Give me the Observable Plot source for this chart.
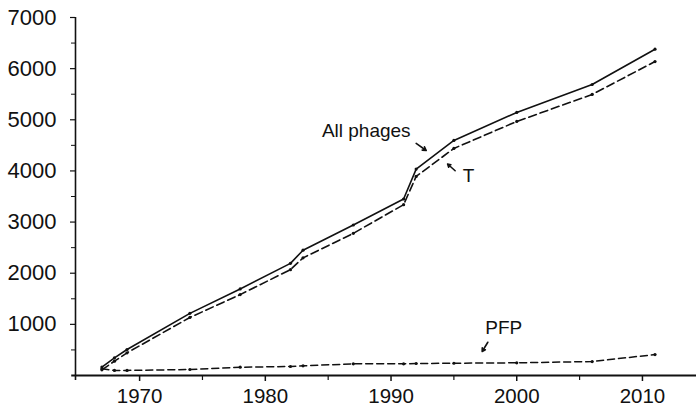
<!DOCTYPE html>
<html><head><meta charset="utf-8">
<script src="https://cdn.jsdelivr.net/npm/d3@7"></script>
<script src="https://cdn.jsdelivr.net/npm/@observablehq/plot@0.6"></script>
<style>body{margin:0;background:#fff} svg{font-family:"Liberation Sans",Arial,sans-serif}</style>
</head><body><div id="chart"></div>
<script>
const years = [1967, 1968, 1969, 1974, 1978, 1982, 1983, 1987, 1991, 1992, 1995, 2000, 2006, 2011];
const allPhages = [165, 345, 508, 1215, 1693, 2193, 2450, 2943, 3451, 4036, 4597, 5143, 5690, 6380];
const tailed = [111, 280, 443, 1135, 1582, 2070, 2300, 2779, 3340, 3893, 4440, 4967, 5495, 6139];
const pfp = [130, 100, 100, 117, 162, 176, 189, 228, 228, 235, 240, 248, 273, 410];
const seriesNames = ["All phages", "T", "PFP"];
const xTicks = [1970, 1980, 1990, 2000, 2010];
const xMinor = [1975, 1985, 1995, 2005];
const yTicks = [1000, 2000, 3000, 4000, 5000, 6000, 7000];
const yMinor = [500, 1500, 2500, 3500, 4500, 5500, 6500];
// annotation labels (data space) and their pointer arrows
const labelText = ["All phages", "T", "PFP"];
const labelYear = [1984.5, 1995.7, 1997.5];
const labelValue = [4775, 3906, 928];
const arrowFromYear = [1992.0, 1995.1, 1997.7];
const arrowFromValue = [4537, 4004, 650];
const arrowToYear = [1992.8, 1994.5, 1997.25];
const arrowToValue = [4400, 4135, 470];

const rows = [];
[allPhages, tailed, pfp].forEach((vals, s) => years.forEach((yr, i) => rows.push({series: seriesNames[s], year: yr, value: vals[i]})));
const labels = labelText.map((t, i) => ({text: t, x: labelYear[i], y: labelValue[i]}));
const arrows = labelText.map((t, i) => ({x1: arrowFromYear[i], y1: arrowFromValue[i], x2: arrowToYear[i], y2: arrowToValue[i]}));
const xMin = 1964.9;

const chart = Plot.plot({
  width: 696, height: 407,
  marginLeft: 75, marginRight: 0, marginTop: 17, marginBottom: 32,
  style: {fontFamily: "Liberation Sans, Arial, sans-serif", background: "white", color: "#111", overflow: "visible"},
  x: {domain: [xMin, 2014.3]},
  y: {domain: [0, 7000]},
  marks: [
    Plot.axisX({ticks: xTicks, tickFormat: d => String(d), tickSize: 6, tickPadding: 7, fontSize: 20.5, label: null, strokeWidth: 1.5}),
    Plot.axisX({ticks: xMinor, tickFormat: () => "", tickSize: 5, label: null, strokeWidth: 1.2}),
    Plot.axisY({ticks: yTicks, tickFormat: d => String(d), tickSize: 5, tickPadding: 14, fontSize: 22, label: null, strokeWidth: 1.2}),
    Plot.axisY({ticks: yMinor, tickFormat: () => "", tickSize: 4, label: null, strokeWidth: 1}),
    Plot.ruleY([0], {x1: xMin - 0.3, x2: 2014.3, stroke: "#111", strokeWidth: 2}),
    Plot.ruleX([xMin], {y1: -100, y2: 7000, stroke: "#111", strokeWidth: 1.6}),
    Plot.line(rows, {filter: d => d.series === "All phages", x: "year", y: "value", stroke: "#111", strokeWidth: 1.6}),
    Plot.line(rows, {filter: d => d.series === "T", x: "year", y: "value", stroke: "#111", strokeWidth: 1.6, strokeDasharray: "8,4"}),
    Plot.line(rows, {filter: d => d.series === "PFP", x: "year", y: "value", stroke: "#111", strokeWidth: 1.5, strokeDasharray: "7,4"}),
    Plot.dot(rows, {x: "year", y: "value", r: 1.6, fill: "#111"}),
    Plot.text(labels, {x: "x", y: "y", text: "text", textAnchor: "start", fontSize: 19, fill: "#111"}),
    Plot.arrow(arrows, {x1: "x1", y1: "y1", x2: "x2", y2: "y2", stroke: "#111", strokeWidth: 1.6, headLength: 7})
  ]
});
document.getElementById("chart").append(chart);
</script>
</body></html>
